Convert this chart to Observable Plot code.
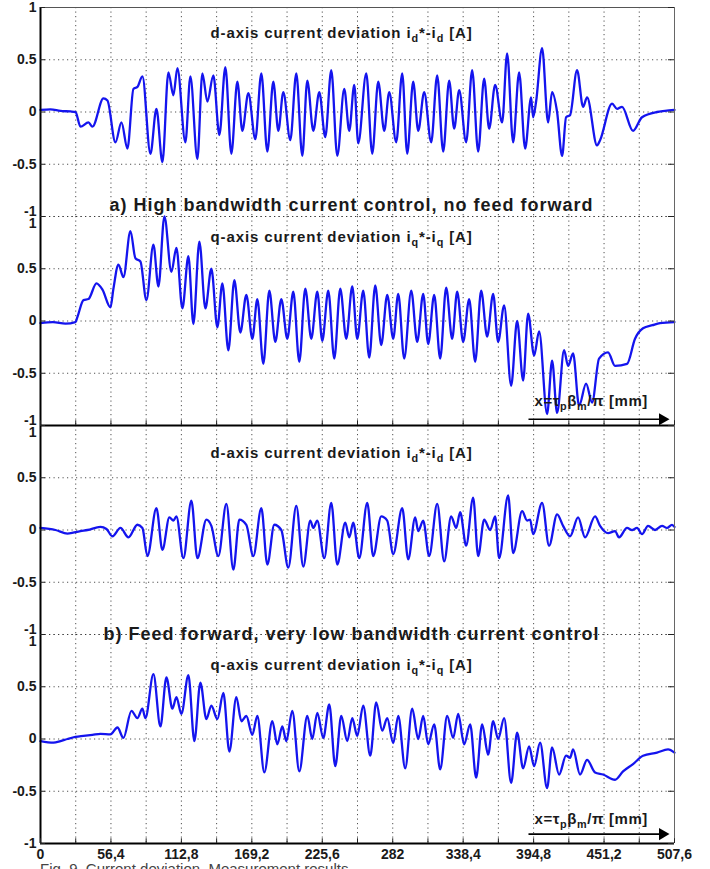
<!DOCTYPE html>
<html><head><meta charset="utf-8">
<script src="https://cdn.jsdelivr.net/npm/d3@7"></script>
<script src="https://cdn.jsdelivr.net/npm/@observablehq/plot@0.6"></script>
<style>
body{margin:0;background:#fff;overflow:hidden}
#chart svg{display:block}
#caption{font-family:"Liberation Sans",Arial,sans-serif;font-size:15px;line-height:12px;color:#444;margin-left:40px;white-space:nowrap}
</style></head><body>
<div id="chart"></div>
<div id="caption">Fig. 9. Current deviation. Measurement results</div>
<script>
// ---------- data ----------
const panels = ["a_d", "a_q", "b_d", "b_q"];
const xLabelTicks = [0, 56.4, 112.8, 169.2, 225.6, 282, 338.4, 394.8, 451.2, 507.6];
const xGridTicks = [0, 28.2, 56.4, 84.6, 112.8, 141, 169.2, 197.4, 225.6, 253.8, 282, 310.2, 338.4, 366.6, 394.8, 423, 451.2, 479.4, 507.6];
const yTicks = [1, 0.5, 0, -0.5, -1];

// a) d-axis current deviation [mm, A]
const dAxisA = [[0,0.02],[8,0.025],[16,0.01],[24,0.005],[28,0.0],[32,-0.14],[38.4,-0.1],[41.6,-0.14],[50.4,0.13],[53.6,0.11],[60,-0.29],[64.8,-0.1],[69.6,-0.35],[74.4,0.22],[77.6,0.24],[81.6,0.34],[88,-0.4],[92.8,0.03],[97.6,-0.48],[102.4,0.38],[106.4,0.16],[109.6,0.42],[116,-0.29],[120,0.34],[125.6,-0.45],[129.6,0.37],[133.6,0.1],[138.4,0.35],[143.2,-0.22],[148,0.43],[152.8,-0.4],[157.6,0.29],[161.6,-0.18],[166.4,0.18],[172,-0.26],[176.8,0.37],[181.6,-0.38],[186.4,0.29],[190.4,-0.18],[194.4,0.19],[200,-0.27],[204.8,0.37],[209.6,-0.42],[213.6,0.3],[218.4,-0.18],[223.2,0.19],[228,-0.24],[232.8,0.4],[237.6,-0.42],[243.2,0.22],[247.2,-0.18],[251.2,0.26],[254.4,-0.3],[260.8,0.37],[265.6,-0.4],[270.4,0.29],[275.2,-0.18],[279.2,0.19],[284.8,-0.29],[289.6,0.37],[293.6,-0.4],[298.4,0.29],[302.4,-0.18],[307.2,0.19],[312.8,-0.29],[317.6,0.35],[322.4,-0.38],[327.2,0.3],[331.2,-0.16],[335.2,0.21],[340.8,-0.29],[345.6,0.4],[350.4,-0.38],[355.2,0.32],[359.2,-0.16],[364,0.26],[369.6,-0.1],[373.6,0.56],[378.4,-0.29],[383.2,0.38],[388,-0.35],[392.8,0.14],[394.4,-0.05],[396.8,0.1],[401.6,0.61],[406.4,-0.1],[409.6,0.19],[413.6,0.0],[417.6,-0.42],[420.8,-0.05],[424,-0.03],[429.6,0.4],[434.4,0.05],[437.6,0.14],[445.6,-0.32],[448,-0.27],[457.6,0.08],[461.6,0.03],[465.6,0.05],[474.4,-0.18],[481.6,-0.05],[493.6,0.0],[500,0.01],[507.6,0.02]];

// a) q-axis current deviation
const qAxisA = [[0,-0.02],[10,-0.01],[20,-0.025],[28,-0.01],[29.6,0.04],[34.4,0.2],[38.4,0.21],[44.8,0.36],[49.6,0.3],[56,0.13],[58.4,0.31],[62.4,0.54],[66.4,0.42],[72,0.86],[76,0.6],[80,0.57],[84.8,0.2],[90.4,0.73],[94.4,0.33],[99.2,1.0],[104.8,0.47],[108.8,0.7],[113.6,0.12],[118.4,0.62],[122.4,-0.03],[127.2,0.76],[132,0.12],[136.8,0.5],[141.6,-0.06],[145.6,0.36],[150.4,-0.28],[155.2,0.39],[160,-0.11],[164.8,0.25],[169.6,-0.17],[173.6,0.21],[178.4,-0.41],[183.2,0.29],[188,-0.2],[192.8,0.21],[197.6,-0.17],[202.4,0.28],[207.2,-0.39],[212,0.31],[216.8,-0.17],[221.6,0.28],[225.6,-0.19],[230.4,0.29],[235.2,-0.36],[240,0.31],[244.8,-0.17],[249.6,0.33],[253.6,-0.17],[258.4,0.29],[263.2,-0.35],[268,0.34],[272.8,-0.23],[277.6,0.25],[282.4,-0.17],[286.4,0.26],[291.2,-0.36],[296.8,0.29],[301.6,-0.2],[306.4,0.26],[310.4,-0.22],[315.2,0.25],[320,-0.36],[324.8,0.32],[329.6,-0.17],[333.6,0.28],[338.4,-0.2],[343.2,0.21],[348,-0.39],[352.8,0.29],[357.6,-0.15],[362.4,0.26],[366.4,-0.2],[371.2,0.15],[376.8,-0.62],[381.6,0.0],[386.4,-0.57],[390.4,0.07],[395.2,-0.33],[399.2,-0.1],[405.6,-0.89],[409.6,-0.38],[413.6,-0.88],[419.2,-0.28],[422.4,-0.43],[426.4,-0.31],[431.2,-0.81],[436.8,-0.6],[441.6,-0.78],[447.2,-0.36],[454.4,-0.3],[460,-0.43],[469.6,-0.41],[476,-0.17],[482.4,-0.07],[490,-0.04],[496,-0.02],[507.6,-0.01]];

// b) d-axis current deviation
const dAxisB = [[0,0.02],[12,0.0],[21.6,-0.035],[32,-0.01],[37.6,0.0],[48,0.03],[52.8,0.01],[57.6,-0.06],[64,0.02],[70.4,-0.07],[77.6,0.05],[81.6,0.02],[85.6,-0.25],[92.8,0.21],[97.6,-0.19],[103.2,0.12],[106.4,0.09],[108.8,0.13],[114.4,-0.27],[120.8,0.28],[125.6,-0.27],[132.8,0.1],[136.8,0.04],[142.4,-0.25],[148.8,0.25],[154.4,-0.38],[159.2,0.1],[164.8,0.05],[170.4,-0.25],[176.8,0.21],[181.6,-0.33],[187.2,0.05],[192.8,0.0],[198.4,-0.36],[204.8,0.23],[210.4,-0.35],[216,0.09],[218.4,0.02],[221.6,0.09],[227.2,-0.27],[232.8,0.26],[237.6,-0.33],[244,0.07],[247.2,-0.07],[250.4,0.07],[255.2,-0.27],[261.6,0.26],[266.4,-0.25],[272.8,0.13],[277.6,0.09],[282.4,-0.23],[289.6,0.21],[294.4,-0.28],[300,0.12],[302.4,-0.01],[306.4,0.09],[311.2,-0.25],[317.6,0.25],[323.2,-0.3],[328.8,0.13],[332.8,0.02],[336,0.17],[340.8,-0.15],[346.4,0.31],[350.4,-0.25],[355.2,0.1],[360,0.0],[364,0.13],[367.2,-0.27],[374.4,0.33],[378.4,-0.22],[385.6,0.18],[389.6,0.09],[392,0.1],[394.4,-0.04],[401.6,0.26],[407.2,-0.15],[413.6,0.15],[418.4,0.04],[424,-0.06],[430.4,0.12],[436,-0.07],[444,0.13],[448,0.04],[454.4,-0.03],[460,-0.01],[463.2,-0.07],[469.6,0.02],[473.6,0.0],[477.6,0.02],[481.6,-0.04],[486.4,0.04],[492,0.0],[497.6,0.04],[501.6,0.02],[505.6,0.05],[507.6,0.03]];

// b) q-axis current deviation
const qAxisB = [[0,-0.02],[10.4,-0.035],[16,-0.02],[21.6,0.0],[28,0.02],[34.4,0.03],[41.6,0.04],[48,0.05],[56,0.045],[61.6,0.11],[66.4,0.01],[72.8,0.27],[77.6,0.2],[81.6,0.29],[84,0.2],[90.4,0.62],[96,0.12],[100.8,0.59],[105.6,0.29],[108.8,0.4],[112.8,0.24],[118.4,0.61],[123.2,-0.02],[128,0.54],[132.8,0.19],[136.8,0.32],[141.6,0.19],[146.4,0.44],[151.2,-0.12],[156.8,0.4],[160.8,0.17],[164.8,0.22],[169.6,0.04],[173.6,0.22],[179.2,-0.32],[185.6,0.17],[189.6,-0.05],[193.6,0.12],[196.8,-0.02],[201.6,0.27],[207.2,-0.31],[213.6,0.22],[217.6,0.0],[221.6,0.25],[226.4,0.01],[231.2,0.33],[236,-0.26],[240.8,0.22],[245.6,-0.02],[249.6,0.2],[253.6,0.03],[258.4,0.32],[264,-0.16],[268.8,0.35],[273.6,0.08],[277.6,0.2],[282.4,-0.04],[286.4,0.22],[292,-0.28],[297.6,0.29],[302.4,0.0],[306.4,0.22],[310.4,-0.05],[315.2,0.14],[320,-0.29],[325.6,0.22],[330.4,0.01],[334.4,0.24],[339.2,-0.05],[344,0.14],[348.8,-0.37],[353.6,0.14],[358.4,-0.15],[362.4,0.17],[366.4,0.0],[371.2,0.2],[376.8,-0.42],[381.6,0.06],[386.4,-0.28],[391.2,-0.07],[395.2,-0.26],[400,-0.035],[405.6,-0.47],[409.6,-0.08],[415.2,-0.34],[420.8,-0.16],[424,-0.18],[426.4,-0.1],[432,-0.34],[437.6,-0.2],[444,-0.32],[450.4,-0.34],[460,-0.39],[466.4,-0.31],[474.4,-0.24],[482.4,-0.16],[493.6,-0.13],[502.4,-0.1],[507.6,-0.13]];

const titles = [
  {p: "a_d", text: "d-axis current deviation i_d*-i_d [A]"},
  {p: "a_d", text: "a) High bandwidth current control, no feed forward"},
  {p: "a_q", text: "q-axis current deviation i_q*-i_q [A]"},
  {p: "b_d", text: "d-axis current deviation i_d*-i_d [A]"},
  {p: "b_d", text: "b) Feed forward, very low bandwidth current control"},
  {p: "b_q", text: "q-axis current deviation i_q*-i_q [A]"}
];
const axisNote = "x=τ_pβ_m/π [mm]";
const arrows = [{p: "a_q", x1: 390.7, x2: 500.4, y: -0.94}, {p: "b_q", x1: 390.7, x2: 500.4, y: -0.91}];

// ---------- layout (styles / offsets) ----------
const titleLayout = [
  {dx: 170, dy: 30.7, size: 15},
  {dx: 69, dy: 203.3, size: 18},
  {dx: 170, dy: 25.8, size: 15},
  {dx: 170, dy: 32.2, size: 15},
  {dx: 63, dy: 214.5, size: 18},
  {dx: 170, dy: 35.2, size: 15}
];
const spacingBySize = {15: "0.9px", 18: "1px"};

const series = {a_d: dAxisA, a_q: qAxisA, b_d: dAxisB, b_q: qAxisB};
const rows = panels.flatMap(p => series[p].map(([x, v]) => ({p, x, v})));
const fmtX = d => String(d).replace(".", ",");
const fmtY = d => String(d);

const yLab = panels.flatMap((p, i) => yTicks.map(v => ({
  p, v, shift: (v === 1 && i > 0) ? "down" : (v === -1 && i < panels.length - 1) ? "up" : "none"
})));
const bottomPanels = ["a_q", "b_q"];
const bottomTicks = bottomPanels.flatMap(p => xGridTicks.map(x => ({p, x})));
const xLab = xLabelTicks.map(x => ({p: "b_q", label: fmtX(x), x}));

const H = 863, MT = 6, MB = 20;
const facetH = (H - MT - MB) / panels.length;
const frameW = 710 - 40 - 36;

const dotted = {stroke: "#333", strokeOpacity: 0.85, strokeWidth: 1, strokeDasharray: "1.2,3.3"};

const marks = [
  Plot.ruleX(xGridTicks, dotted),
  Plot.ruleY(yTicks, dotted),
  Plot.line(rows, {x: "x", y: "v", fy: "p", z: "p", stroke: "#1414ee", strokeWidth: 2.3, curve: "monotone-x"}),
  // frame pieces
  Plot.ruleX([0], {stroke: "#000", strokeWidth: 2}),
  Plot.ruleX([507.6], {stroke: "#666", strokeWidth: 1}),
  Plot.ruleY([{p: "a_d", v: 1}], {y: "v", fy: "p", stroke: "#555", strokeWidth: 1}),
  Plot.ruleY([{p: "a_q", v: -1}, {p: "b_q", v: -1}], {y: "v", fy: "p", stroke: "#000", strokeWidth: 2}),
  // inward ticks
  Plot.ruleY(yTicks, {insetLeft: frameW - 6, stroke: "#222"}),
  Plot.ruleY(yTicks, {insetRight: frameW - 5, stroke: "#222"}),
  Plot.ruleX(bottomTicks, {x: "x", fy: "p", insetTop: facetH - 5, stroke: "#222"}),
  // y labels
  Plot.text(yLab.filter(d => d.shift === "none"), {y: "v", fy: "p", text: d => fmtY(d.v), frameAnchor: "left", textAnchor: "end", dx: -4}),
  Plot.text(yLab.filter(d => d.shift === "down"), {y: "v", fy: "p", text: d => fmtY(d.v), frameAnchor: "left", textAnchor: "end", dx: -4, dy: 7}),
  Plot.text(yLab.filter(d => d.shift === "up"), {y: "v", fy: "p", text: d => fmtY(d.v), frameAnchor: "left", textAnchor: "end", dx: -4, dy: -5}),
  // x labels
  Plot.text(xLab, {x: "x", fy: "p", text: "label", frameAnchor: "bottom", lineAnchor: "top", dy: 6}),
  // arrows + axis note
  Plot.link(arrows, {x1: "x1", x2: "x2", y1: "y", y2: "y", fy: "p", stroke: "#000", strokeWidth: 1.6}),
  Plot.dot(arrows, {x: "x2", y: "y", fy: "p", symbol: "triangle", rotate: 90, r: 4.5, fill: "#000", stroke: "none", dx: -3}),
  Plot.text(bottomPanels.map(p => ({p})), {fy: "p", text: () => axisNote, frameAnchor: "bottom-left", textAnchor: "start", lineAnchor: "bottom", dx: 494, dy: -19.5, fontSize: 15}),
  ...titles.map((t, i) => Plot.text([t], {
    fy: "p", text: "text", frameAnchor: "top-left", textAnchor: "start", lineAnchor: "bottom",
    dx: titleLayout[i].dx, dy: titleLayout[i].dy, fontSize: titleLayout[i].size, fill: "#1a1a1a"
  }))
];

const svg = Plot.plot({
  width: 710, height: H, marginTop: MT, marginBottom: MB, marginLeft: 40, marginRight: 36,
  style: {fontFamily: "'Liberation Sans', Arial, sans-serif", fontWeight: "bold", fontSize: "14px", color: "#1a1a1a", background: "white"},
  x: {domain: [0, 507.6], axis: null},
  y: {domain: [-1, 1], axis: null},
  fy: {domain: panels, padding: 0, axis: null},
  marks
});

// letter spacing for titles + subscripts
svg.querySelectorAll("text").forEach(t => {
  const s = t.textContent;
  const holder = t.closest("[font-size]");
  const fs = holder ? parseFloat(holder.getAttribute("font-size")) : 14;
  if (spacingBySize[fs]) t.setAttribute("letter-spacing", spacingBySize[fs]);
  if (s.startsWith("x=")) t.setAttribute("letter-spacing", "0.6px");
  if (!s.includes("_")) return;
  t.textContent = "";
  const parts = s.split(/_(.)/);
  parts.forEach((part, i) => {
    const ts = document.createElementNS("http://www.w3.org/2000/svg", "tspan");
    ts.textContent = part;
    if (i % 2 === 1) { ts.setAttribute("dy", "4"); ts.setAttribute("font-size", "72%"); }
    else if (i > 0) ts.setAttribute("dy", "-4");
    t.appendChild(ts);
  });
});

document.getElementById("chart").appendChild(svg);
</script>
</body></html>
